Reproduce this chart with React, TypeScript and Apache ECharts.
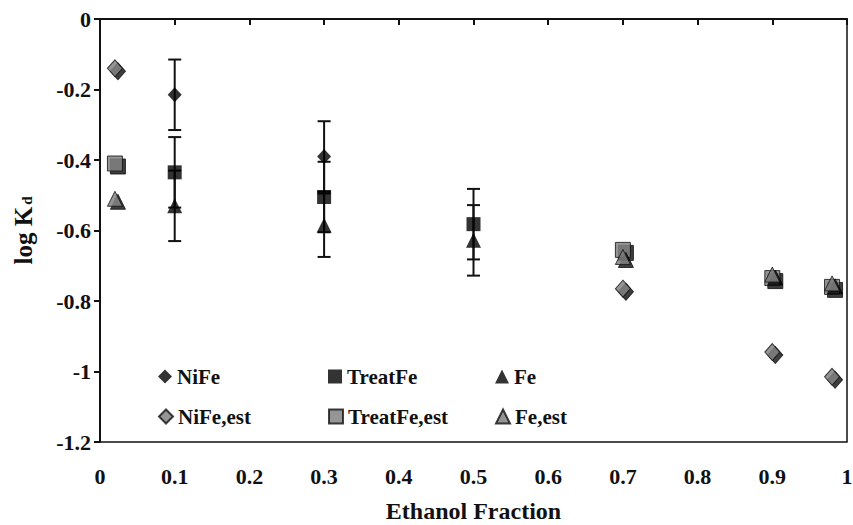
import React, { useEffect, useRef } from "react";
import * as echarts from "echarts";

const measuredX = [0.1, 0.3, 0.5];
const nife = [-0.215, -0.39, null];
const nifeErr = [0.1, 0.1, null];
const treatFe = [-0.435, -0.505, -0.582];
const treatFeErr = [0.1, 0.1, 0.1];
const fe = [-0.53, -0.585, -0.628];
const feErr = [0.1, 0.09, 0.1];

const estX = [0.02, 0.7, 0.9, 0.98];
const nifeEst = [-0.14, -0.765, -0.945, -1.015];
const treatFeEst = [-0.41, -0.655, -0.735, -0.76];
const feEst = [-0.51, -0.675, -0.725, -0.75];

const xTicks = [0, 0.1, 0.2, 0.3, 0.4, 0.5, 0.6, 0.7, 0.8, 0.9, 1];
const yTicks = [0, -0.2, -0.4, -0.6, -0.8, -1, -1.2];

const FONT = "'Liberation Serif', 'Times New Roman', 'DejaVu Serif', serif";
const INK = "#111";
const GRAY = "#7b7b7b";

function pairs(xs: number[], ys: (number | null)[]) {
  return xs.map((x, i) => [x, ys[i]]).filter((p) => p[1] !== null);
}
function errTriples(xs: number[], ys: (number | null)[], es: (number | null)[]) {
  return xs
    .map((x, i) => [x, ys[i], es[i]])
    .filter((p) => p[1] !== null && p[2] !== null);
}

const shadow = {
  shadowColor: "rgba(0,0,0,0.95)",
  shadowBlur: 0,
  shadowOffsetX: 3,
  shadowOffsetY: 3,
};

export default function App() {
  const ref = useRef<HTMLDivElement>(null);
  useEffect(() => {
    if (!ref.current) return;
    document.body.style.margin = "0";
    document.body.style.overflow = "hidden";
    const chart = echarts.init(ref.current, null, { renderer: "svg" });

    const errorSeries = (name: string, data: any[]) => ({
      type: "custom",
      name,
      z: 3,
      data,
      renderItem: (params: any, api: any) => {
        const x = api.value(0);
        const y = api.value(1);
        const e = api.value(2);
        const top = api.coord([x, y + e]);
        const bot = api.coord([x, y - e]);
        const w = 6.5;
        const st = { stroke: INK, lineWidth: 2 };
        return {
          type: "group",
          children: [
            { type: "line", shape: { x1: top[0], y1: top[1], x2: bot[0], y2: bot[1] }, style: st },
            { type: "line", shape: { x1: top[0] - w, y1: top[1], x2: top[0] + w, y2: top[1] }, style: st },
            { type: "line", shape: { x1: bot[0] - w, y1: bot[1], x2: bot[0] + w, y2: bot[1] }, style: st },
          ],
        };
      },
    });

    const legendAt = (name: string, left: number, top: number) => ({
      data: [name],
      left,
      top,
      padding: 0,
      itemWidth: 14,
      itemHeight: 14,
      itemGap: 0,
      textStyle: { fontFamily: FONT, fontWeight: "bold", fontSize: 21, color: INK },
    });

    const labelFmt = (v: number) => String(Math.round(v * 10) / 10);

    chart.setOption({
      animation: false,
      textStyle: { fontFamily: FONT },
      grid: {
        left: 100,
        right: 6,
        top: 19,
        bottom: 83,
        containLabel: false,
        outerBoundsMode: "none",
        show: true,
        borderColor: INK,
        borderWidth: 1.5,
      },
      xAxis: {
        type: "value",
        min: xTicks[0],
        max: xTicks[xTicks.length - 1],
        interval: 0.1,
        splitLine: { show: false },
        axisLine: { show: true, lineStyle: { color: INK, width: 2 } },
        axisTick: { show: true, length: 6, lineStyle: { color: INK, width: 2 } },
        axisLabel: {
          margin: 23,
          fontFamily: FONT,
          fontWeight: "bold",
          fontSize: 22,
          color: INK,
          formatter: labelFmt,
        },
        name: "Ethanol Fraction",
        nameLocation: "middle",
        nameGap: 57,
        nameTextStyle: { fontFamily: FONT, fontWeight: "bold", fontSize: 24, color: INK },
      },
      yAxis: {
        type: "value",
        min: yTicks[yTicks.length - 1],
        max: yTicks[0],
        interval: 0.2,
        splitLine: { show: false },
        axisLine: { show: true, lineStyle: { color: INK, width: 2 } },
        axisTick: { show: true, length: 6, lineStyle: { color: INK, width: 2 } },
        axisLabel: {
          margin: 9,
          fontFamily: FONT,
          fontWeight: "bold",
          fontSize: 22,
          color: INK,
          formatter: labelFmt,
        },
        name: "{a|log K}{b|d}",
        nameLocation: "middle",
        nameRotate: 90,
        nameGap: 64,
        nameTextStyle: {
          rich: {
            a: { fontFamily: FONT, fontWeight: "bold", fontSize: 25, color: INK },
            b: { fontFamily: FONT, fontWeight: "bold", fontSize: 15, color: INK, padding: [6, 0, 0, 2] },
          },
        },
      },
      legend: [
        legendAt("NiFe", 158, 366),
        legendAt("TreatFe", 328, 366),
        legendAt("Fe", 495, 366),
        legendAt("NiFe,est", 158, 406),
        legendAt("TreatFe,est", 328, 406),
        legendAt("Fe,est", 495, 406),
      ],
      series: [
        {
          name: "TreatFe,est",
          type: "scatter",
          z: 2,
          symbol: "rect",
          symbolSize: 15,
          data: pairs(estX, treatFeEst),
          itemStyle: { color: GRAY, borderColor: INK, borderWidth: 1, ...shadow },
        },
        {
          name: "Fe,est",
          type: "scatter",
          z: 2,
          symbol: "triangle",
          symbolSize: [15, 15],
          data: pairs(estX, feEst),
          itemStyle: { color: GRAY, borderColor: INK, borderWidth: 1, ...shadow },
        },
        {
          name: "NiFe,est",
          type: "scatter",
          z: 2,
          symbol: "diamond",
          symbolSize: [15, 17],
          data: pairs(estX, nifeEst),
          itemStyle: { color: GRAY, borderColor: INK, borderWidth: 1, ...shadow },
        },
        errorSeries("NiFe err", errTriples(measuredX, nife, nifeErr)),
        errorSeries("TreatFe err", errTriples(measuredX, treatFe, treatFeErr)),
        errorSeries("Fe err", errTriples(measuredX, fe, feErr)),
        {
          name: "NiFe",
          type: "scatter",
          z: 4,
          symbol: "diamond",
          symbolSize: [14, 15],
          data: pairs(measuredX, nife),
          itemStyle: { color: "#000" },
        },
        {
          name: "TreatFe",
          type: "scatter",
          z: 4,
          symbol: "rect",
          symbolSize: 14,
          data: pairs(measuredX, treatFe),
          itemStyle: { color: "#000" },
        },
        {
          name: "Fe",
          type: "scatter",
          z: 4,
          symbol: "triangle",
          symbolSize: [15, 15],
          data: pairs(measuredX, fe),
          itemStyle: { color: "#000" },
        },
      ],
    });
    return () => chart.dispose();
  }, []);
  return (
    <div
      ref={ref}
      style={{ position: "absolute", left: 0, top: 0, width: 853, height: 525, overflow: "hidden" }}
    />
  );
}
